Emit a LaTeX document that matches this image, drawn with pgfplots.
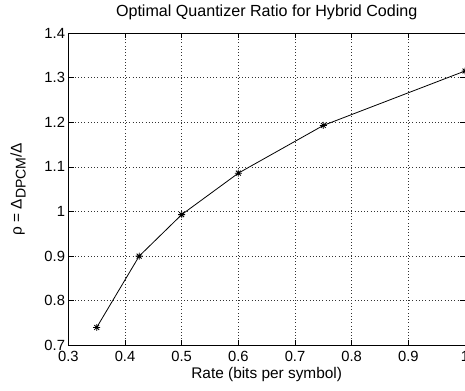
\documentclass[border=0pt]{standalone}
\usepackage{fontspec}
\setmainfont{Liberation Sans}
\usepackage{pgfplots}
\pgfplotsset{compat=1.18}
\pgfdeclareplotmark{mstar}{%
  \pgfpathmoveto{\pgfqpoint{-\pgfplotmarksize}{0pt}}\pgfpathlineto{\pgfqpoint{\pgfplotmarksize}{0pt}}%
  \pgfpathmoveto{\pgfqpoint{0pt}{-\pgfplotmarksize}}\pgfpathlineto{\pgfqpoint{0pt}{\pgfplotmarksize}}%
  \pgfpathmoveto{\pgfqpoint{-0.7\pgfplotmarksize}{-0.7\pgfplotmarksize}}\pgfpathlineto{\pgfqpoint{0.7\pgfplotmarksize}{0.7\pgfplotmarksize}}%
  \pgfpathmoveto{\pgfqpoint{-0.7\pgfplotmarksize}{0.7\pgfplotmarksize}}\pgfpathlineto{\pgfqpoint{0.7\pgfplotmarksize}{-0.7\pgfplotmarksize}}%
  \pgfusepathqstroke}
\begin{document}
\begin{tikzpicture}
\begin{axis}[
  scale only axis,
  width=296pt, height=233pt,
  xmin=0.3, xmax=1, ymin=0.7, ymax=1.4,
  xtick={0.3,0.4,0.5,0.6,0.7,0.8,0.9,1},
  ytick={0.7,0.8,0.9,1,1.1,1.2,1.3,1.4},
  xticklabels={0.3,0.4,0.5,0.6,0.7,0.8,0.9,1},
  yticklabels={0.7,0.8,0.9,1,1.1,1.2,1.3,1.4},
  tick align=inside,
  major tick length=4pt,
  grid=major,
  major grid style={black!80, dotted, line width=0.5pt},
  axis line style={black, line width=0.6pt},
  tick style={black, line width=0.5pt},
  ticklabel style={font=\fontsize{11}{12}\selectfont},
  xticklabel style={yshift=-1pt},
  yticklabel style={xshift=1pt},
  label style={font=\fontsize{11.5}{13}\selectfont},
  title style={font=\fontsize{12}{14}\selectfont, yshift=0pt},
  title={Optimal Quantizer Ratio for Hybrid Coding},
  xlabel={Rate (bits per symbol)},
  ylabel={ρ = Δ\raisebox{-0.5ex}{\fontsize{10.5}{11}\selectfont DPCM}/Δ},
  xlabel style={yshift=3pt},
  ylabel style={yshift=7pt},
  /pgf/number format/assume math mode=true,
]
\addplot[black, line width=0.6pt, mark=mstar, mark size=2.6pt, mark options={line width=0.6pt}]
coordinates {(0.35,0.740) (0.425,0.900) (0.5,0.993) (0.6,1.086) (0.75,1.193) (1.0,1.315)};
\end{axis}
\pgfresetboundingbox
\path[use as bounding box] ([shift={(-51pt,-33.7pt)}]current axis.south west) rectangle ([shift={(0pt,24.7pt)}]current axis.north east);
\end{tikzpicture}
\end{document}
